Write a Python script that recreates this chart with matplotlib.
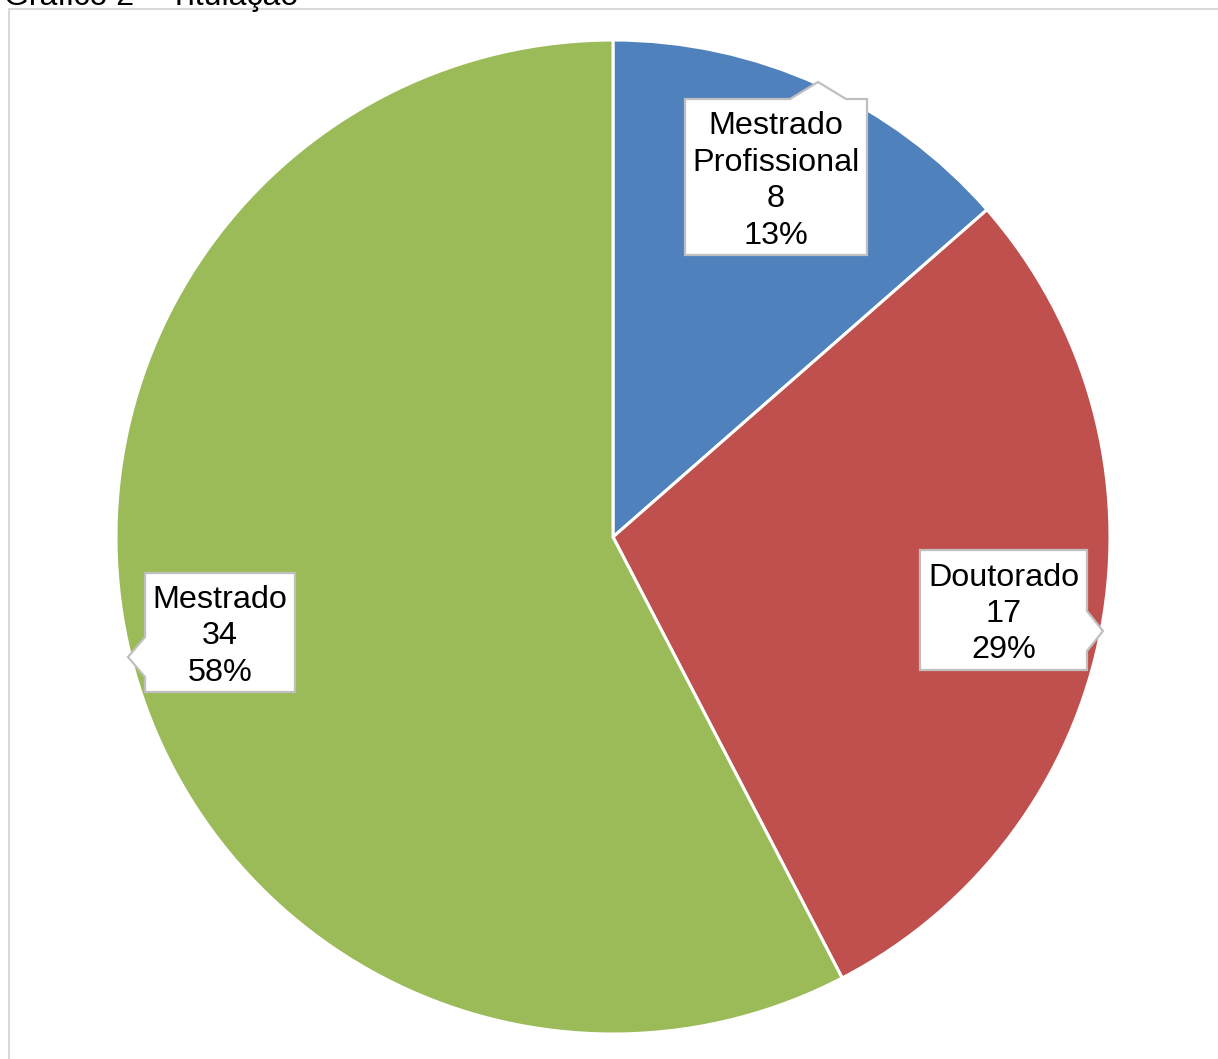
import matplotlib.pyplot as plt
from matplotlib.patches import Polygon, Rectangle

categorias = ['Mestrado\nProfissional', 'Doutorado', 'Mestrado']
valores = [8, 17, 34]
percentuais = ['13%', '29%', '58%']
cores = ['#4F81BD', '#C0504D', '#9BBB59']

W, H = 1218, 1059
fig = plt.figure(figsize=(W / 100, H / 100), dpi=100)
ax = fig.add_axes([0, 0, 1, 1])

plt.rcParams['font.family'] = ['Liberation Sans', 'DejaVu Sans']

# moldura do grafico
ax.add_patch(Rectangle((9, -20), W + 20, H - 9 + 20, fill=False,
                       edgecolor='#D9D9D9', lw=1.5))

cx, cy, r = 613, H - 537, 497
ax.pie(valores, colors=cores, startangle=90, counterclock=False,
       center=(cx, cy), radius=r, frame=True,
       wedgeprops=dict(edgecolor='white', linewidth=2.2))
ax.set_xlim(0, W)
ax.set_ylim(0, H)
ax.axis('off')

# caixas dos rotulos (em pixels: esquerda, topo, direita, base) e ponta
caixas = [
    (685, 99, 867, 255, 'top', (818, 82)),
    (920, 550, 1087, 670, 'right', (1103, 631)),
    (145, 573, 295, 692, 'left', (128, 657)),
]

for (x0, y0, x1, y1, lado, ponta), cat, v, p in zip(caixas, categorias, valores, percentuais):
    px, py = ponta
    if lado == 'top':
        pts = [(x0, y0), (px - 28, y0), (px, py), (px + 28, y0), (x1, y0),
               (x1, y1), (x0, y1)]
    elif lado == 'right':
        pts = [(x0, y0), (x1, y0), (x1, py - 20), (px, py), (x1, py + 20),
               (x1, y1), (x0, y1)]
    else:
        pts = [(x0, y0), (x1, y0), (x1, y1), (x0, y1), (x0, py + 20),
               (px, py), (x0, py - 20)]
    pts = [(a, H - b) for a, b in pts]
    ax.add_patch(Polygon(pts, closed=True, facecolor='white',
                         edgecolor='#BFBFBF', lw=1.6, zorder=5))
    ax.text((x0 + x1) / 2, H - (y0 + y1) / 2 - 4, f'{cat}\n{v}\n{p}',
            ha='center', va='center', fontsize=23.3, linespacing=1.28,
            color='black', zorder=6)

fig.text(4 / W, 1 - 5 / H, 'Gráfico 2 – Titulação', ha='left',
         va='baseline', fontsize=23, color='black')

fig.savefig('out.png', dpi=100)
